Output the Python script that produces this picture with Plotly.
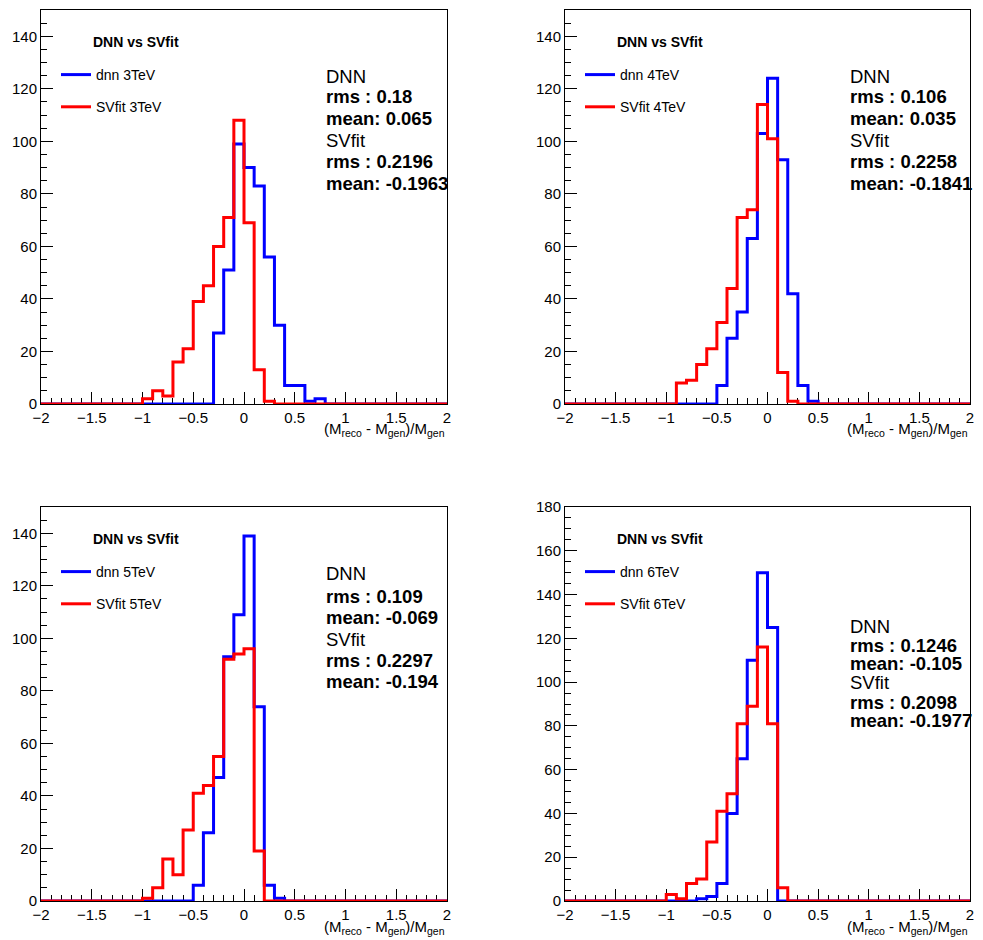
import numpy as np
import plotly.graph_objects as go

# ---------------- data ----------------
x_min, x_max, n_bins = -2.0, 2.0, 40
energies = ["3TeV", "4TeV", "5TeV", "6TeV"]

dnn_3tev = [0]*17 + [27, 51, 99, 90, 83, 56, 30, 7, 7, 1, 2] + [0]*12
svfit_3tev = [0]*10 + [2, 5, 3, 16, 21, 39, 45, 60, 71, 108, 69, 13, 1] + [0]*17

dnn_4tev = [0]*15 + [7, 25, 35, 63, 103, 124, 93, 42, 7, 1] + [0]*15
svfit_4tev = [0]*11 + [8, 9, 15, 21, 31, 44, 71, 74, 114, 101, 12, 1] + [0]*17

dnn_5tev = [0]*15 + [6, 26, 47, 93, 109, 139, 74, 6, 1] + [0]*16
svfit_5tev = [0]*10 + [1, 5, 16, 10, 27, 41, 44, 55, 92, 94, 96, 19] + [0]*18

dnn_6tev = [0]*13 + [1, 2, 8, 40, 65, 110, 150, 125] + [0]*19
svfit_6tev = [0]*10 + [3, 1, 8, 10, 27, 41, 49, 81, 89, 116, 81, 6] + [0]*18

dnn_counts = [dnn_3tev, dnn_4tev, dnn_5tev, dnn_6tev]
svfit_counts = [svfit_3tev, svfit_4tev, svfit_5tev, svfit_6tev]

dnn_rms = ["0.18", "0.106", "0.109", "0.1246"]
dnn_mean = ["0.065", "0.035", "-0.069", "-0.105"]
svfit_rms = ["0.2196", "0.2258", "0.2297", "0.2098"]
svfit_mean = ["-0.1963", "-0.1841", "-0.194", "-0.1977"]

y_max = [150, 150, 150, 180]

edges = np.round(np.linspace(x_min, x_max, n_bins + 1), 3)

# ---------------- layout (pixels) ----------------
W, H = 983, 940
frames = [  # left, right, top, bottom
    (41, 447, 10, 404),
    (565, 970, 10, 404),
    (41, 447, 507, 901),
    (565, 970, 507, 901),
]
# stats text line offsets from frame top
stat_offsets = [
    [66, 87, 108, 130, 152, 173],
    [66, 87, 108, 130, 152, 173],
    [66, 89, 110, 132, 153, 174],
    [119, 138, 156, 175, 195, 213],
]

def px(x):
    return x / W

def py(y):
    return 1 - y / H

FONT = "Liberation Sans, Arial, Helvetica, sans-serif"
BLUE = "#0000ff"
RED = "#ff0000"

fig = go.Figure()
annotations = []
layout = {}

for k in range(4):
    L, R, T, B = frames[k]
    sfx = "" if k == 0 else str(k + 1)
    xa, ya = "x" + sfx, "y" + sfx
    leg = "legend" + sfx

    for counts, name, color in [
        (dnn_counts[k], "dnn " + energies[k], BLUE),
        (svfit_counts[k], "SVfit " + energies[k], RED),
    ]:
        yvals = list(counts) + [counts[-1]]
        fig.add_trace(go.Scatter(
            x=edges, y=yvals, mode="lines", line=dict(shape="hv", color=color, width=3),
            name=name, xaxis=xa, yaxis=ya, legend=leg, legendgroup=name,
            cliponaxis=False, hoverinfo="skip",
        ))

    axis_common = dict(
        showline=True, linecolor="black", linewidth=1, mirror=True,
        ticks="inside", ticklen=12, tickwidth=1, tickcolor="black",
        showgrid=False, zeroline=False, automargin=False,
        tickfont=dict(family=FONT, size=15, color="black"),
        layer="below traces",
    )
    layout["xaxis" + sfx] = dict(
        domain=[px(L), px(R)], anchor=ya, range=[x_min, x_max],
        tick0=-2, dtick=0.5,
        minor=dict(dtick=0.1, ticklen=6, ticks="inside", tickcolor="black", showgrid=False),
        **axis_common,
    )
    layout["yaxis" + sfx] = dict(
        domain=[py(B), py(T)], anchor=xa, range=[0, y_max[k]],
        tick0=0, dtick=20,
        minor=dict(dtick=5, ticklen=6, ticks="inside", tickcolor="black", showgrid=False),
        **axis_common,
    )
    layout[leg] = dict(
        x=px(L + 15), y=py(T + 49), xanchor="left", yanchor="top",
        bgcolor="rgba(0,0,0,0)", borderwidth=0,
        font=dict(family=FONT, size=14, color="black"),
        tracegroupgap=11,
    )

    # legend header
    annotations.append(dict(
        text="<b>DNN vs SVfit</b>", x=px(L + 50), y=py(T + 32), xref="paper", yref="paper",
        xanchor="left", yanchor="middle", showarrow=False,
        font=dict(family=FONT, size=14, color="black"),
    ))

    # stats text
    lines = [
        "DNN",
        "<b>rms : " + dnn_rms[k] + "</b>",
        "<b>mean: " + dnn_mean[k] + "</b>",
        "SVfit",
        "<b>rms : " + svfit_rms[k] + "</b>",
        "<b>mean: " + svfit_mean[k] + "</b>",
    ]
    for txt, off in zip(lines, stat_offsets[k]):
        annotations.append(dict(
            text=txt, x=px(L + 283), y=py(T + off), xref="paper", yref="paper",
            xanchor="left", yanchor="middle", showarrow=False,
            font=dict(family=FONT, size=18.5, color="black"),
        ))

    # x-axis title
    annotations.append(dict(
        text="(M<sub>reco</sub> - M<sub>gen</sub>)/M<sub>gen</sub>",
        x=px(R), y=py(B + 26), xref="paper", yref="paper",
        xanchor="right", yanchor="middle", showarrow=False,
        font=dict(family=FONT, size=15, color="black"),
    ))

fig.update_layout(
    width=W, height=H, margin=dict(l=0, r=0, t=0, b=0),
    paper_bgcolor="white", plot_bgcolor="white",
    annotations=annotations, showlegend=True,
    **layout,
)

fig.write_html("out.html")
